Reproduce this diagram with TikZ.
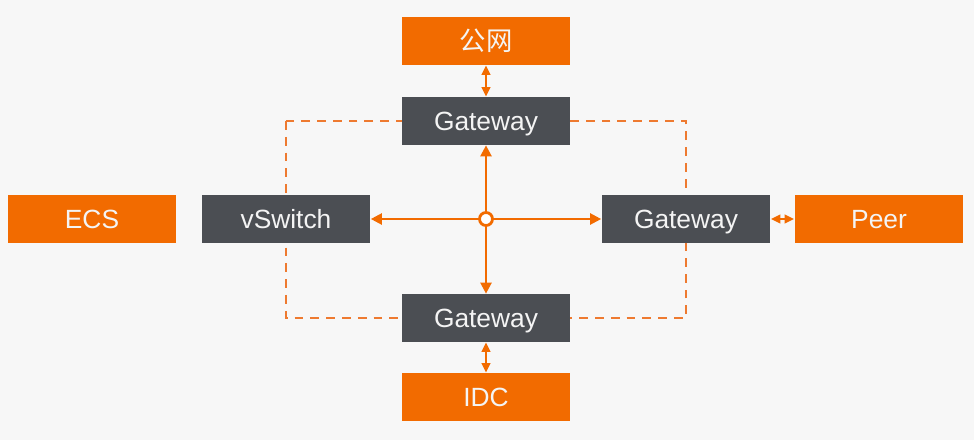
\documentclass[tikz,border=0pt]{standalone}
\usepackage{fontspec}
\setmainfont{Liberation Sans}
\newfontfamily\cjk{Noto Sans CJK SC}
\usetikzlibrary{calc,positioning,arrows.meta}
\definecolor{fundo}{HTML}{F7F7F7}
\definecolor{laranja}{HTML}{F26B00}
\definecolor{tracejado}{HTML}{EE7A30}
\definecolor{grafite}{HTML}{4B4E53}
\definecolor{letra}{HTML}{F4F4F4}

\begin{document}
\begin{tikzpicture}[x=0.02cm,y=-0.02cm,
    caixa/.style={fill=#1, draw=none, minimum width=3.38cm, minimum height=0.96cm,
      text=letra, font=\fontsize{15}{18}\selectfont, inner sep=0pt,
      text height=10.6pt, text depth=0pt},
    seta/.style={-{Triangle[length=2.2mm,width=2.2mm]}, line width=1.3pt, laranja},
    dupla/.style={{Triangle[length=1.9mm,width=1.7mm]}-{Triangle[length=1.9mm,width=1.7mm]}, line width=1.3pt, laranja},
    moldura/.style={dash pattern=on 5pt off 4pt, line width=1.1pt, tracejado}]
  \fill[fundo] (0,0) rectangle (974,440);
  % dashed ring behind the boxes
  \draw[moldura] (286,121) rectangle (686,318);
  \node[caixa=laranja] (net) at (486,41) {\cjk 公网};
  \node[caixa=grafite] (gwt) at (486,121) {Gateway};
  \node[caixa=grafite] (gwb) at (486,318) {Gateway};
  \node[caixa=laranja] (idc) at (486,397) {IDC};
  \node[caixa=laranja] (ecs) at (92,219) {ECS};
  \node[caixa=grafite] (vsw) at (286,219) {vSwitch};
  \node[caixa=grafite] (gwr) at (686,219) {Gateway};
  \node[caixa=laranja] (peer) at (879,219) {Peer};
  \node[circle, draw=laranja, line width=1.6pt, fill=white, minimum size=0.26cm, inner sep=0pt] (hub) at (486,219) {};
  \draw[seta] (hub) -- (vsw.east);
  \draw[seta] (hub) -- (gwr.west);
  \draw[seta] (hub) -- (gwt.south);
  \draw[seta] (hub) -- (gwb.north);
  \draw[dupla] (net.south) -- (gwt.north);
  \draw[dupla] (gwb.south) -- (idc.north);
  \draw[dupla] (gwr.east) -- (peer.west);
\end{tikzpicture}
\end{document}
